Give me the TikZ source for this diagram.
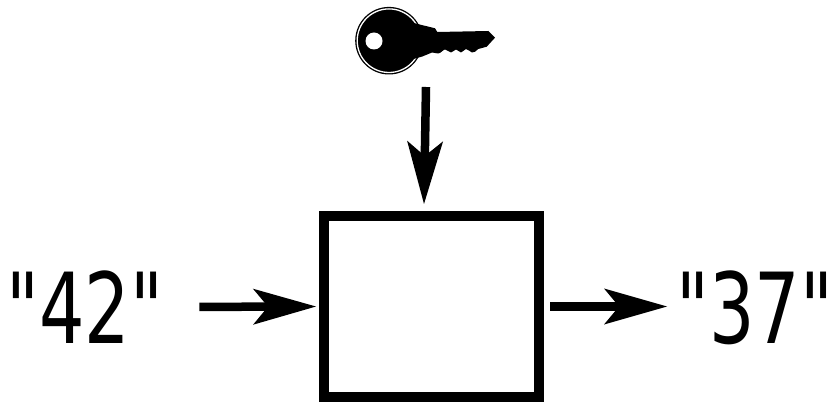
\documentclass[tikz,border=0pt]{standalone}
\usepackage{fontspec}
\newfontfamily\labfont[FakeStretch=0.73]{DejaVu Sans}
\usetikzlibrary{arrows.meta}
\tikzset{
  blockbox/.style={draw=black,line width=10pt,fill=white,minimum width=215pt,minimum height=181pt,inner sep=0pt},
  textlabel/.style={inner sep=0pt,outer sep=0pt,text height=72pt,text depth=0pt,font=\labfont\fontsize{98pt}{98pt}\selectfont},
  conn/.style={line width=8.5pt,-{Stealth[length=63pt,width=36pt,inset=15pt,line width=0pt]}},
  keyfill/.style={fill=black,draw=none}
}
\begin{document}
\begin{tikzpicture}[x=1pt,y=-1pt]
\useasboundingbox (0,0) rectangle (832,403);
\node[blockbox] (box) at (431.5,306.5) {};
\node[textlabel,anchor=center] (l42) at (85,307) {"42"};
\node[textlabel,anchor=center] (l37) at (755,307) {"37"};
\coordinate (key) at (426,87);
% key
\fill[keyfill] (389,40.7) circle[radius=33.8pt];
\draw[white,line width=1.3pt] (389,40.7) circle[radius=31.8pt];
\fill[keyfill] (410,22) -- (421.7,25) -- (435,28.3) -- (437.3,32) -- (488.3,31) -- (495,37.7) -- (486.7,46.7) -- (478.3,49)
  .. controls (476,51) and (474,53) .. (472,52.5)
  .. controls (470,52) and (468,49) .. (466,49)
  .. controls (464,49) and (463,52.5) .. (461,52.5)
  .. controls (459,52.5) and (458,49.5) .. (456,49.5)
  .. controls (454,49.5) and (453,52.5) .. (451,52.5)
  .. controls (449,52.5) and (447,49.5) .. (445,49.5)
  .. controls (443,49.5) and (441,53.5) .. (438,53.5)
  -- (432,52.5) -- (422.3,56.5) -- (410,60) -- cycle;
\fill[white] (374,41) circle[radius=8.5pt];
% connectors
\draw[conn,shorten <=36pt,shorten >=3pt] (l42.east) -- (box.west);
\draw[conn,shorten <=6pt,shorten >=0pt] (box.east) -- (667,306.5);
\draw[conn] (key) -- ([shift={(-7.5,-7)}]box.north);
\end{tikzpicture}
\end{document}
